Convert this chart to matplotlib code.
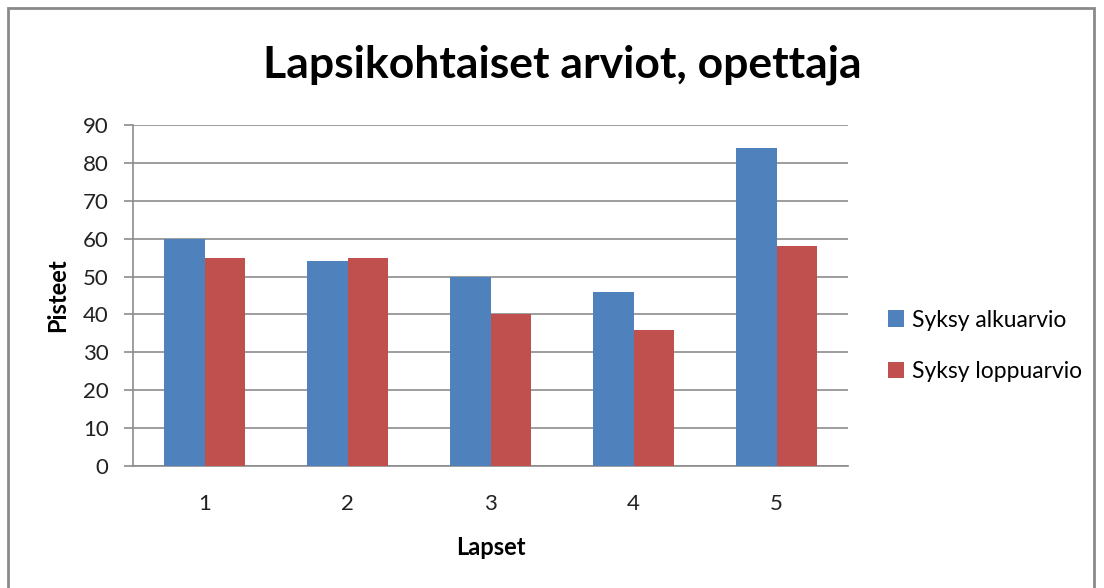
import numpy as np
import matplotlib
matplotlib.use("Agg")
import matplotlib.pyplot as plt
from matplotlib.patches import Rectangle

categories = ["1", "2", "3", "4", "5"]
alkuarvio = [60, 54, 50, 46, 84]
loppuarvio = [55, 55, 40, 36, 58]
series_names = ["Syksy alkuarvio", "Syksy loppuarvio"]
yticks = [0, 10, 20, 30, 40, 50, 60, 70, 80, 90]

BLUE = "#4F81BD"
RED = "#C0504D"
GRID = "#8C8C8C"

plt.rcParams["font.family"] = ["Lato", "DejaVu Sans"]

W, H = 1104, 588
fig = plt.figure(figsize=(W / 100, H / 100), dpi=100)

# outer chart border
fig.patches.append(Rectangle((8 / W, -0.05), (1094 - 8) / W, 1.05 - 8 / H,
                             transform=fig.transFigure, fill=False,
                             edgecolor="#8A8A8A", linewidth=2))

ax = fig.add_axes([133 / W, 122 / H, (848 - 133) / W, (466 - 125) / H])

x = np.arange(len(categories))
bw = 0.285
ax.bar(x - bw / 2, alkuarvio, bw, color=BLUE, label=series_names[0], zorder=3)
ax.bar(x + bw / 2, loppuarvio, bw, color=RED, label=series_names[1], zorder=3)

ax.set_xlim(-0.5, len(categories) - 0.5)
ax.set_ylim(0, 90)
ax.set_yticks(yticks)
ax.set_xticks(x)
ax.set_xticklabels(categories)

ax.yaxis.grid(True, color=GRID, linewidth=1.2, zorder=0)
ax.set_axisbelow(True)
for s in ["top", "right"]:
    ax.spines[s].set_visible(False)
ax.spines["left"].set_color(GRID)
ax.spines["bottom"].set_color(GRID)
ax.spines["left"].set_linewidth(1.2)
ax.spines["bottom"].set_linewidth(1.2)

ax.tick_params(axis="y", length=6.5, width=1.2, color=GRID, pad=11,
               labelsize=16, labelcolor="#222222")
ax.tick_params(axis="x", length=0, pad=20, labelsize=16, labelcolor="#222222")

ax.set_xlabel("Lapset", fontsize=17, fontweight="bold", labelpad=16)
ax.set_ylabel("Pisteet", fontsize=17, fontweight="bold", labelpad=10)

fig.text(562 / W, 1 - 65 / H, "Lapsikohtaiset arviot, opettaja",
         ha="center", va="center", fontsize=32, fontweight="bold")

ax.legend(loc="center left", bbox_to_anchor=(867 / W, 1 - 346 / H),
          bbox_transform=fig.transFigure, frameon=False, fontsize=16.5,
          handlelength=0.7, handleheight=0.7, handletextpad=0.35,
          labelspacing=1.35)

fig.savefig("out.png", dpi=100)
